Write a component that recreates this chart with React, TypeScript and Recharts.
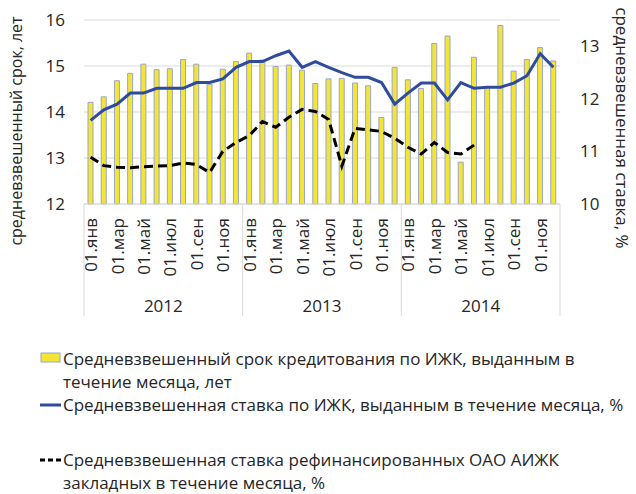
import React from "react";
import {
  ComposedChart,
  Bar,
  Line,
  XAxis,
  YAxis,
  CartesianGrid,
  Legend,
  Label,
} from "recharts";

const monthNames = ["янв", "фев", "мар", "апр", "май", "июн", "июл", "авг", "сен", "окт", "ноя", "дек"];
const years = [2012, 2013, 2014];

// средневзвешенный срок, лет
const term = [
  14.21, 14.33, 14.68, 14.84, 15.04, 14.92, 14.94, 15.14, 15.04, 14.6, 14.93, 15.1,
  15.28, 15.13, 14.99, 15.02, 14.91, 14.62, 14.72, 14.73, 14.63, 14.57, 13.88, 14.97,
  14.7, 14.51, 15.49, 15.65, 12.91, 15.19, 14.54, 15.88, 14.89, 15.14, 15.4, 15.11,
];

// средневзвешенная ставка по ИЖК, %
const rate = [
  11.59, 11.79, 11.9, 12.11, 12.11, 12.2, 12.2, 12.2, 12.31, 12.31, 12.38, 12.6,
  12.71, 12.71, 12.82, 12.91, 12.6, 12.71, 12.6, 12.5, 12.41, 12.41, 12.31, 11.9,
  12.11, 12.3, 12.3, 11.98, 12.31, 12.2, 12.22, 12.22, 12.3, 12.44, 12.86, 12.6,
];

// ставка рефинансированных ОАО АИЖК закладных, %
const refi = [
  10.89, 10.73, 10.7, 10.69, 10.71, 10.72, 10.73, 10.78, 10.75, 10.6, 11.0, 11.17,
  11.3, 11.57, 11.46, 11.65, 11.8, 11.76, 11.61, 10.72, 11.44, 11.41, 11.38, 11.25,
  11.08, 10.95, 11.17, 10.98, 10.95, 11.12, null, null, null, null, null, null,
];

const leftTicks = [12, 13, 14, 15, 16];
const rightTicks = [10, 11, 12, 13];
const yearTicks = [0, 6, 12, 18, 24, 30, 36];

const categories = years.flatMap((y) => monthNames.map((m) => `01.${m}`));

const data = categories.map((label, i) => ({
  idx: i + 0.5,
  label,
  term: term[i],
  rate: rate[i],
  refi: refi[i],
}));

const FONT = "'Open Sans', sans-serif";
const TEXT = "#262626";
const MONTH_AXIS_H = 75;
const YEAR_AXIS_H = 37;

const MonthTick = (props: any) => {
  const { x, y, payload } = props;
  return (
    <text
      x={x}
      y={y}
      transform={`rotate(-90, ${x}, ${y})`}
      textAnchor="end"
      dominantBaseline="central"
      fontSize={17}
      fontFamily={FONT}
      fill={TEXT}
    >
      {payload.value}
    </text>
  );
};

const YearTick = (props: any) => {
  const { x, y, payload } = props;
  const v = payload.value;
  if (v % 12 === 0) {
    return (
      <line x1={x} x2={x} y1={y - MONTH_AXIS_H} y2={y + YEAR_AXIS_H} stroke="#d9d9d9" />
    );
  }
  return (
    <text x={x} y={y + 33} textAnchor="middle" fontSize={17} fontFamily={FONT} fill={TEXT}>
      {years[Math.floor(v / 12)]}
    </text>
  );
};

const ChartLegend = () => {
  const row: React.CSSProperties = {
    display: "flex",
    alignItems: "flex-start",
    lineHeight: "23px",
  };
  const iconBox: React.CSSProperties = { width: 23, flex: "none", height: 23 };
  return (
    <div style={{ fontFamily: FONT, fontSize: 17, color: TEXT, textAlign: "left" }}>
      <div style={row}>
        <svg style={iconBox} width={23} height={23}>
          <rect x={1} y={6} width={19} height={9} fill="#F2E635" stroke="#9CA3CC" />
        </svg>
        <div>
          <div>Средневзвешенный срок кредитования по ИЖК, выданным в</div>
          <div>течение месяца, лет</div>
        </div>
      </div>
      <div style={row}>
        <svg style={iconBox} width={23} height={23}>
          <line x1={0} x2={21} y1={12} y2={12} stroke="#2E4B9E" strokeWidth={3} />
        </svg>
        <div>Средневзвешенная ставка по ИЖК, выданным в течение месяца, %</div>
      </div>
      <div style={{ ...row, marginTop: 32 }}>
        <svg style={iconBox} width={23} height={23}>
          <line
            x1={0}
            x2={21}
            y1={12}
            y2={12}
            stroke="#000"
            strokeWidth={3}
            strokeDasharray="5 3"
          />
        </svg>
        <div>
          <div>Средневзвешенная ставка рефинансированных ОАО АИЖК</div>
          <div>закладных в течение месяца, %</div>
        </div>
      </div>
    </div>
  );
};

export default function App() {
  return (
    <div style={{ position: "absolute", left: 0, top: 0, fontFamily: FONT }}>
      <ComposedChart
        width={636}
        height={494}
        data={data}
        margin={{ top: 20, right: 0, bottom: 178, left: 0 }}
        barSize={5}
      >
        <CartesianGrid yAxisId="left" vertical={false} stroke="#d9d9d9" />
        <XAxis
          dataKey="label"
          interval={1}
          height={MONTH_AXIS_H}
          tickSize={0}
          tickMargin={14}
          tickLine={false}
          axisLine={{ stroke: "#d9d9d9" }}
          tick={<MonthTick />}
        />
        <XAxis
          xAxisId="year"
          dataKey="idx"
          type="number"
          domain={[0, 36]}
          allowDataOverflow
          ticks={yearTicks}
          interval={0}
          height={YEAR_AXIS_H}
          tickSize={0}
          tickMargin={0}
          tickLine={false}
          axisLine={false}
          tick={<YearTick />}
        />
        <YAxis
          yAxisId="left"
          domain={[12, 16]}
          ticks={leftTicks}
          width={84}
          axisLine={false}
          tickLine={false}
          tickMargin={13}
          tick={{ fontSize: 17, fill: TEXT, fontFamily: FONT }}
        >
          <Label
            content={(p: any) => {
              const vb = p.viewBox;
              const cx = vb.x + 16;
              const cy = vb.y + vb.height / 2 + 19;
              return (
                <text
                  x={cx}
                  y={cy}
                  transform={`rotate(-90, ${cx}, ${cy})`}
                  textAnchor="middle"
                  dominantBaseline="central"
                  fontSize={16}
                  fontFamily={FONT}
                  fill={TEXT}
                >
                  средневзвешенный срок, лет
                </text>
              );
            }}
          />
        </YAxis>
        <YAxis
          yAxisId="right"
          orientation="right"
          domain={[10, 13.5]}
          ticks={rightTicks}
          width={76}
          axisLine={false}
          tickLine={false}
          tickMargin={14}
          tick={{ fontSize: 17, fill: TEXT, fontFamily: FONT, textAnchor: "start" }}
        >
          <Label
            content={(p: any) => {
              const vb = p.viewBox;
              const cx = vb.x + 62;
              const cy = vb.y + vb.height / 2 + 16;
              return (
                <text
                  x={cx}
                  y={cy}
                  transform={`rotate(90, ${cx}, ${cy})`}
                  textAnchor="middle"
                  dominantBaseline="central"
                  fontSize={17}
                  fontFamily={FONT}
                  fill={TEXT}
                >
                  средневзвешенная ставка, %
                </text>
              );
            }}
          />
        </YAxis>
        <Bar
          yAxisId="left"
          dataKey="term"
          name="Средневзвешенный срок кредитования по ИЖК, выданным в течение месяца, лет"
          fill="#F2E635"
          stroke="#9CA3CC"
          strokeWidth={1}
          isAnimationActive={false}
        />
        <Line
          yAxisId="right"
          dataKey="rate"
          name="Средневзвешенная ставка по ИЖК, выданным в течение месяца, %"
          type="linear"
          stroke="#2E4B9E"
          strokeWidth={3}
          dot={false}
          activeDot={false}
          isAnimationActive={false}
        />
        <Line
          yAxisId="right"
          dataKey="refi"
          name="Средневзвешенная ставка рефинансированных ОАО АИЖК закладных в течение месяца, %"
          type="linear"
          stroke="#000000"
          strokeWidth={3}
          strokeDasharray="9 5"
          dot={false}
          activeDot={false}
          connectNulls={false}
          isAnimationActive={false}
        />
        <Legend
          layout="vertical"
          verticalAlign="middle"
          align="center"
          wrapperStyle={{ top: 347, left: 40, width: 596 }}
          content={<ChartLegend />}
        />
      </ComposedChart>
    </div>
  );
}
